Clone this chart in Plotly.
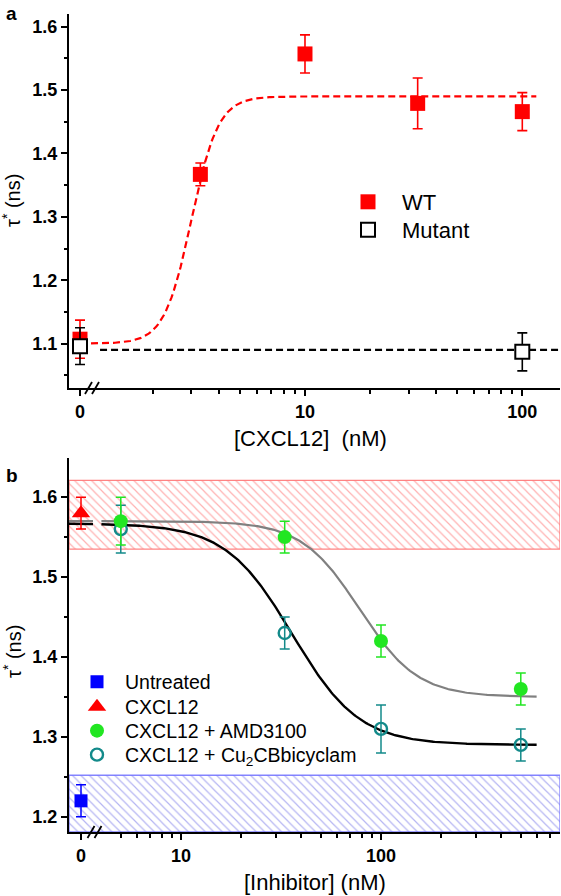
import numpy as np
import plotly.graph_objects as go

# ---------------- Panel a data ----------------
conc_a = [0, 3.3, 10, 33, 100]
wt_tau = [1.107, 1.367, 1.557, 1.479, 1.466]
wt_err = [0.030, 0.018, 0.030, 0.040, 0.030]
mut_conc = [0, 100]
mut_tau = [1.096, 1.087]
mut_err = [0.029, 0.030]
mut_level = 1.09
wt_fit = dict(base=1.10, top=1.49, ec50=3.0, n=7.0)

# ---------------- Panel b data ----------------
untr_x = [0]
untr_tau = [1.22]
untr_err = [0.02]
cx_x = [0]
cx_tau = [1.58]
cx_err = [0.02]
inhib_x = [5, 33, 100, 500]
amd_tau = [1.57, 1.55, 1.42, 1.36]
amd_err = [0.03, 0.02, 0.02, 0.02]
cu_tau = [1.56, 1.43, 1.31, 1.29]
cu_err = [0.03, 0.02, 0.03, 0.02]
cx_band = (1.535, 1.621)
untr_band = (1.181, 1.252)
amd_fit = dict(top=1.570, bottom=1.35, ic50=78.0, n=3.0)
cu_fit = dict(top=1.567, bottom=1.29, ic50=36.0, n=2.6)

# ---------------- axis geometry (broken log axes) ----------------
W, H = 561, 896
L, R = 69, 1
PW = W - L - R
ZERO_A = 10 ** -0.0354   # where "0" sits on axis a
ZERO_B = 10 ** 0.5       # where "0" sits on axis b
XR_A = [-0.086, 2.1735]
XR_B = [0.44, 2.895]


def px_x(p):
    return (p - L) / PW


def px_y(p):
    return (H - p) / H


def pos(c, zero):
    return [zero if v == 0 else v for v in c]


def hill_up(x, p):
    x = np.asarray(x)
    return p['base'] + (p['top'] - p['base']) * x ** p['n'] / (p['ec50'] ** p['n'] + x ** p['n'])


def hill_down(x, p):
    x = np.asarray(x)
    return p['bottom'] + (p['top'] - p['bottom']) / (1 + (x / p['ic50']) ** p['n'])


RED = '#ff0000'
GREEN = '#22e622'
TEAL = '#138a8a'
BLUE = '#0000ff'
FONT = 'Arial, Liberation Sans, sans-serif'

fig = go.Figure()

# ---- panel a ----
xa = np.logspace(np.log10(ZERO_A), np.log10(116), 300)
fig.add_trace(go.Scatter(x=xa, y=hill_up(xa, wt_fit), mode='lines',
                         line=dict(color=RED, width=2.2, dash='7px,4px'),
                         showlegend=False, xaxis='x', yaxis='y', hoverinfo='skip'))
fig.add_trace(go.Scatter(x=[1.14, 10 ** XR_A[1]], y=[mut_level, mut_level], mode='lines',
                         line=dict(color='black', width=2.2, dash='7px,4px'),
                         showlegend=False, xaxis='x', yaxis='y', hoverinfo='skip'))
fig.add_trace(go.Scatter(x=pos(conc_a, ZERO_A), y=wt_tau, mode='markers', name='WT',
                         marker=dict(symbol='square', size=15, color=RED),
                         error_y=dict(type='data', array=wt_err, color=RED, thickness=1.6, width=5),
                         legend='legend', xaxis='x', yaxis='y'))
fig.add_trace(go.Scatter(x=pos(mut_conc, ZERO_A), y=mut_tau, mode='markers', name='Mutant',
                         marker=dict(symbol='square', size=14, color='white',
                                     line=dict(color='black', width=2)),
                         error_y=dict(type='data', array=mut_err, color='black', thickness=1.6, width=5),
                         legend='legend2', xaxis='x', yaxis='y'))

# ---- panel b ----
bx0, bx1 = 10 ** XR_B[0], 10 ** XR_B[1]
fig.add_trace(go.Scatter(x=[bx0, bx1, bx1, bx0, bx0],
                         y=[cx_band[0], cx_band[0], cx_band[1], cx_band[1], cx_band[0]],
                         mode='lines', fill='toself', line=dict(color='rgba(255,110,110,0.85)', width=1.3),
                         fillcolor='rgba(0,0,0,0)',
                         fillpattern=dict(shape='\\', fgcolor='rgba(255,70,70,0.85)', bgcolor='white',
                                          size=6, solidity=0.2),
                         showlegend=False, xaxis='x2', yaxis='y2', hoverinfo='skip'))
fig.add_trace(go.Scatter(x=[bx0, bx1, bx1, bx0, bx0],
                         y=[untr_band[0], untr_band[0], untr_band[1], untr_band[1], untr_band[0]],
                         mode='lines', fill='toself', line=dict(color='rgba(110,110,255,0.85)', width=1.3),
                         fillcolor='rgba(0,0,0,0)',
                         fillpattern=dict(shape='\\', fgcolor='rgba(80,80,225,0.85)', bgcolor='white',
                                          size=6, solidity=0.2),
                         showlegend=False, xaxis='x2', yaxis='y2', hoverinfo='skip'))

stub = np.logspace(XR_B[0], 0.56, 10)
main = np.logspace(np.log10(4.0), np.log10(600), 300)
xb = np.concatenate([stub, [np.nan], main])
for p, col, w in [(amd_fit, '#808080', 2.2), (cu_fit, 'black', 2.4)]:
    yb = hill_down(np.nan_to_num(xb, nan=1.0), p)
    yb = np.where(np.isnan(xb), np.nan, yb)
    fig.add_trace(go.Scatter(x=xb, y=yb, mode='lines', line=dict(color=col, width=w),
                             connectgaps=False, showlegend=False, xaxis='x2', yaxis='y2',
                             hoverinfo='skip'))

fig.add_trace(go.Scatter(x=pos(untr_x, ZERO_B), y=untr_tau, mode='markers', name='Untreated',
                         marker=dict(symbol='square', size=13, color=BLUE),
                         error_y=dict(type='data', array=untr_err, color=BLUE, thickness=1.5, width=5),
                         legend='legend3', xaxis='x2', yaxis='y2'))
fig.add_trace(go.Scatter(x=pos(cx_x, ZERO_B), y=cx_tau, mode='markers', name='CXCL12',
                         marker=dict(symbol='triangle-up', size=16, color=RED),
                         error_y=dict(type='data', array=cx_err, color=RED, thickness=1.5, width=5),
                         legend='legend4', xaxis='x2', yaxis='y2'))
fig.add_trace(go.Scatter(x=inhib_x, y=cu_tau, mode='markers', name='CXCL12 + Cu<sub>2</sub>CBbicyclam',
                         marker=dict(symbol='circle-open', size=12, color=TEAL, line=dict(width=2.4)),
                         error_y=dict(type='data', array=cu_err, color=TEAL, thickness=1.5, width=5),
                         legend='legend6', xaxis='x2', yaxis='y2'))
fig.add_trace(go.Scatter(x=inhib_x, y=amd_tau, mode='markers', name='CXCL12 + AMD3100',
                         marker=dict(symbol='circle', size=14, color=GREEN),
                         error_y=dict(type='data', array=amd_err, color=GREEN, thickness=1.5, width=5),
                         legend='legend5', xaxis='x2', yaxis='y2'))

tickfont = dict(family=FONT, size=18, color='black', weight='bold')
common_x = dict(type='log', showgrid=False, zeroline=False, showline=True, linecolor='black',
                linewidth=2, ticks='outside', ticklen=6, tickwidth=2, tickcolor='black',
                tickfont=tickfont, automargin=False)
common_y = dict(showgrid=False, zeroline=False, showline=True, linecolor='black', linewidth=2,
                ticks='outside', ticklen=6, tickwidth=2, tickcolor='black', tickfont=tickfont,
                automargin=False, tick0=1.0, dtick=0.1, tickformat='.1f',
                minor=dict(dtick=0.05, tick0=1.0, ticks='outside', ticklen=3.5, tickwidth=1.5,
                           tickcolor='black', showgrid=False))

minor_a = [2, 3, 4, 5, 6, 7, 8, 9, 20, 30, 40, 50, 60, 70, 80, 90]
minor_b = [5, 6, 7, 8, 9, 20, 30, 40, 50, 60, 70, 80, 90, 200, 300, 400, 500, 600, 700, 800]


def leg(sym_x, cy, size, iw):
    return dict(x=px_x(sym_x - 5 - iw / 2), y=px_y(cy), xanchor='left', yanchor='middle',
                font=dict(family=FONT, size=size, color='black'), bgcolor='rgba(0,0,0,0)',
                tracegroupgap=0, itemwidth=iw, borderwidth=0)


fig.update_layout(
    width=W, height=H, margin=dict(l=L, r=R, t=0, b=0),
    paper_bgcolor='white', plot_bgcolor='white',
    font=dict(family=FONT, color='black'),
    xaxis=dict(common_x, domain=[0, 1], anchor='y', range=XR_A,
               tickvals=[ZERO_A, 10, 100], ticktext=['0', '10', '100'],
               minor=dict(tickvals=minor_a, ticks='outside', ticklen=3.5, tickwidth=1.5,
                          tickcolor='black', showgrid=False)),
    yaxis=dict(common_y, domain=[px_y(388), px_y(14)], anchor='x', range=[1.03, 1.62]),
    xaxis2=dict(common_x, domain=[0, 1], anchor='y2', range=XR_B,
                tickvals=[ZERO_B, 10, 100], ticktext=['0', '10', '100'],
                minor=dict(tickvals=minor_b, ticks='outside', ticklen=3.5, tickwidth=1.5,
                           tickcolor='black', showgrid=False)),
    yaxis2=dict(common_y, domain=[px_y(832), px_y(458)], anchor='x2', range=[1.181, 1.649]),
    legend=leg(368, 202, 22, 58),
    legend2=leg(368, 230, 22, 58),
    legend3=leg(97, 682, 19.5, 46),
    legend4=leg(97, 707, 19.5, 46),
    legend5=leg(97, 731, 19.5, 46),
    legend6=leg(97, 755, 19.5, 46),
    showlegend=True,
)

ann = []
ann.append(dict(text='<b>a</b>', x=px_x(11), y=px_y(13), font=dict(size=19)))
ann.append(dict(text='<b>b</b>', x=px_x(12), y=px_y(475), font=dict(size=19)))
ann.append(dict(text='[CXCL12]  (nM)', x=px_x(310), y=px_y(438), font=dict(size=22)))
ann.append(dict(text='[Inhibitor] (nM)', x=px_x(315), y=px_y(882), font=dict(size=22)))
ann.append(dict(text='τ<sup>*</sup> (ns)', x=px_x(12), y=px_y(201), font=dict(size=20), textangle=-90))
ann.append(dict(text='τ<sup>*</sup> (ns)', x=px_x(12), y=px_y(652), font=dict(size=20), textangle=-90))
for a in ann:
    a.update(xref='paper', yref='paper', showarrow=False, xanchor='center', yanchor='middle')
    a['font'].update(family=FONT, color='black')
fig.update_layout(annotations=ann)

# axis-break marks "//"
shapes = []
for cx, ay in [(88.5, 388), (95.5, 388), (91, 832), (98, 832)]:
    shapes.append(dict(type='line', xref='paper', yref='paper',
                       x0=px_x(cx - 3.5), y0=px_y(ay + 6), x1=px_x(cx + 3.5), y1=px_y(ay - 6),
                       line=dict(color='black', width=1.8)))
fig.update_layout(shapes=shapes)

fig.write_html('out.html', config={'displayModeBar': False},
               post_script="document.body.style.margin='0';")
